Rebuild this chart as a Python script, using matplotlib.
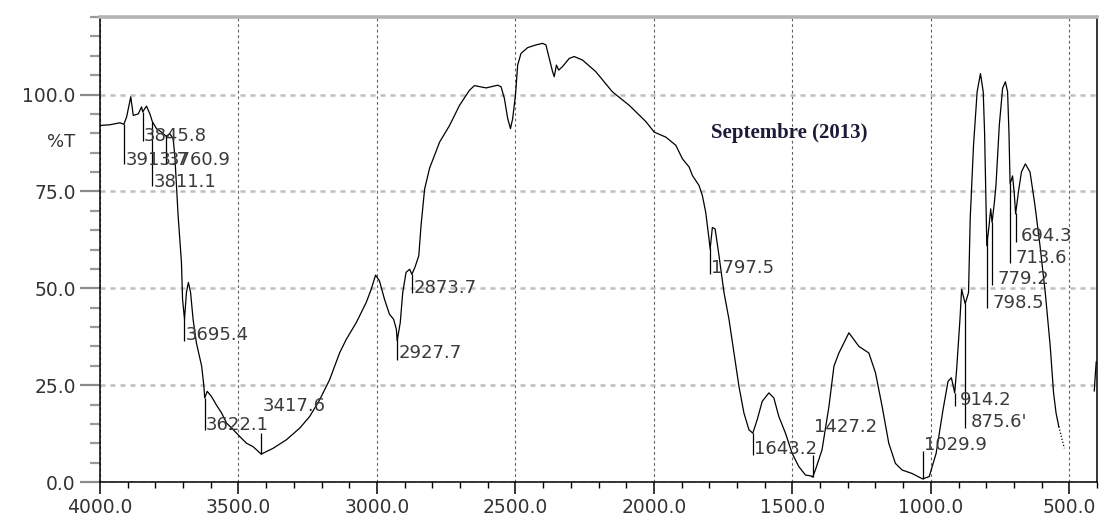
import numpy as np
import matplotlib
matplotlib.use("Agg")
import matplotlib.pyplot as plt
from matplotlib.ticker import MultipleLocator, FormatStrFormatter

# IR transmittance spectrum, wavenumber (cm-1) vs %T
wavenumber = [
    4000, 3964, 3928, 3914, 3904, 3889, 3880, 3862, 3850, 3846, 3838, 3832, 3820, 3811,
    3796, 3778, 3761, 3748, 3736, 3730, 3724, 3718, 3706, 3702, 3695, 3688, 3681, 3673,
    3664, 3652, 3633, 3625, 3622, 3613, 3598, 3580, 3561, 3543, 3519, 3495, 3471, 3447,
    3418, 3375, 3327, 3279, 3243, 3207, 3171, 3135, 3111, 3075, 3039, 3021, 3005, 2991,
    2973, 2955, 2940, 2930, 2927, 2916, 2907, 2895, 2882, 2874, 2863, 2849, 2841, 2828,
    2810, 2774, 2738, 2702, 2666, 2648, 2606, 2564, 2552, 2540, 2528, 2518, 2510, 2500,
    2492, 2480, 2456, 2426, 2402, 2390, 2378, 2366, 2360, 2352, 2344, 2330, 2306, 2288,
    2258, 2210, 2150, 2089, 2029, 1999, 1957, 1921, 1897, 1873, 1861, 1837, 1825, 1813,
    1801, 1797, 1789, 1779, 1765, 1747, 1729, 1711, 1693, 1675, 1657, 1643, 1627, 1609,
    1585, 1567, 1549, 1525, 1501, 1477, 1453, 1435, 1427, 1417, 1393, 1368, 1350, 1332,
    1296, 1260, 1224, 1200, 1176, 1152, 1128, 1104, 1068, 1030, 1006, 981, 956, 938,
    926, 914, 907, 895, 889, 883, 876, 864, 858, 846, 833, 821, 811, 806, 802, 798,
    790, 784, 779, 771, 765, 753, 741, 731, 723, 718, 714, 709, 705, 699, 694, 689,
    684, 673, 659, 642, 624, 606, 587, 569, 557, 548, 538,
]
transmittance = [
    92.0, 92.2, 92.7, 92.3, 94.2, 99.4, 94.6, 95.0, 96.8, 95.5, 96.4, 97.0, 95.0, 93.0,
    91.2, 90.3, 89.2, 89.9, 88.6, 84.3, 76.5, 68.7, 56.7, 47.2, 42.0, 48.9, 51.5, 48.9,
    42.0, 35.9, 29.9, 24.7, 21.7, 23.4, 22.1, 19.9, 17.8, 15.2, 13.5, 11.7, 10.0, 9.1,
    7.2, 8.7, 10.9, 13.9, 16.9, 21.2, 26.4, 33.3, 36.8, 41.1, 46.3, 49.7, 53.4, 51.9,
    47.2, 43.3, 42.0, 39.4, 36.5, 41.1, 48.9, 54.1, 54.9, 53.6, 55.4, 58.4, 66.1, 75.6,
    81.0, 87.7, 92.0, 97.2, 101.1, 102.3, 101.7, 102.4, 102.0, 99.0, 93.8, 91.2, 93.8, 99.8,
    107.6, 110.6, 112.1, 112.8, 113.2, 112.8, 109.3, 105.9, 104.6, 107.6, 106.3, 107.2, 109.3, 109.8,
    108.9, 105.9, 100.7, 97.2, 93.0, 90.3, 89.0, 86.9, 83.4, 81.3, 79.1, 76.5, 73.9, 69.6,
    62.7, 60.1, 65.7, 65.3, 58.4, 48.9, 42.0, 33.3, 24.7, 17.8, 13.5, 12.6, 16.1, 20.8,
    23.0, 21.7, 16.9, 12.6, 7.4, 4.0, 1.8, 1.6, 1.3, 3.1, 8.3, 19.5, 29.9, 33.3,
    38.5, 35.0, 33.3, 28.2, 19.5, 10.0, 4.8, 3.1, 2.2, 0.8, 1.4, 7.4, 18.7, 26.0,
    26.9, 23.0, 29.0, 42.0, 49.7, 48.0, 46.0, 48.9, 67.9, 86.9, 100.7, 105.4, 100.7, 90.0,
    75.0, 61.0, 66.1, 70.5, 67.0, 72.0, 76.5, 92.0, 101.6, 103.3, 100.7, 90.0, 77.0, 78.0,
    79.0, 74.5, 69.2, 72.0, 74.8, 80.0, 82.1, 80.0, 71.3, 61.0, 48.9, 35.0, 23.0, 17.8, 14.3,
]

# noisy tail of the scan below ~540 cm-1, and the rise at the far edge
tail_wn = [538, 526, 518]
tail_t = [14.3, 10.9, 8.7]
edge_wn = [410, 406, 403]
edge_t = [23.5, 28.0, 31.0]

# peak picks: label, end of the leader line, label baseline (%T)
peak_labels = ['3913.7', '3845.8', '3811.1', '3760.9', '3695.4', '3622.1', '3417.6',
               '2927.7', '2873.7', '1797.5', '1643.2', '1427.2', '1029.9', '914.2',
               "875.6'", '798.5', '779.2', '713.6', '694.3']
peak_line_end = [82.0, 88.0, 76.3, 82.0, 36.5, 13.3, 12.7, 31.6, 48.7, 53.6, 7.0,
                 7.0, 7.9, 19.5, 14.0, 45.0, 50.8, 56.5, 62.0]
peak_label_t = [81.8, 88.0, 76.2, 81.8, 36.7, 13.4, 18.2, 32.0, 48.8, 53.9, 7.2,
                12.9, 8.2, 19.8, 14.2, 45.0, 51.0, 56.6, 62.2]

peak_wn = np.array([float(s.rstrip("'")) for s in peak_labels])
wn_arr = np.array(wavenumber, dtype=float)
t_arr = np.array(transmittance, dtype=float)
peak_top = np.interp(peak_wn, wn_arr[::-1], t_arr[::-1])

fig = plt.figure(figsize=(11.04, 5.25), dpi=100)
ax = fig.add_axes([0.0906, 0.0819, 0.9031, 0.8857])

ax.plot(wn_arr, t_arr, color='black', lw=0.9, zorder=3)
ax.plot(tail_wn, tail_t, color='black', lw=0.9, ls=(0, (1, 1.5)), zorder=3)
ax.plot(edge_wn, edge_t, color='black', lw=0.9, zorder=3)

ax.vlines(peak_wn, peak_top, peak_line_end, color='black', lw=0.9, zorder=3)
for wn, lab, ty in zip(peak_wn, peak_labels, peak_label_t):
    dx = 4 if wn < 950 else 1
    ax.annotate(lab, (wn, ty), xytext=(dx, 0), textcoords='offset points',
                ha='left', va='baseline', fontsize=13, color='#3a3a3a',
                family='DejaVu Sans', zorder=4)

ax.text(1513, 90, 'Septembre (2013)', family='Liberation Serif', fontweight='bold',
        fontsize=15, color='#1b1b38', ha='center', va='center')
ax.text(-0.025, 87.8, '%T', transform=ax.get_yaxis_transform(), ha='right',
        va='center', fontsize=13, color='#333333', family='DejaVu Sans')

ax.set_xlim(4000, 400)
ax.set_ylim(0, 120)

ax.xaxis.set_major_locator(MultipleLocator(500))
ax.xaxis.set_minor_locator(MultipleLocator(100))
ax.yaxis.set_major_locator(MultipleLocator(25))
ax.yaxis.set_minor_locator(MultipleLocator(5))
ax.xaxis.set_major_formatter(FormatStrFormatter('%.1f'))
ax.yaxis.set_major_formatter(FormatStrFormatter('%.1f'))

ax.tick_params(axis='x', which='major', direction='out', length=8.6, width=1.1,
               color='black', labelsize=13.5, labelcolor='#333333', pad=3)
ax.tick_params(axis='x', which='minor', direction='out', length=4.5, width=1.0,
               color='black')
ax.tick_params(axis='y', which='major', direction='out', length=14.4, width=1.6,
               color='#8c8c8c', labelsize=13.5, labelcolor='#333333', pad=3)
ax.tick_params(axis='y', which='minor', direction='out', length=7.2, width=1.6,
               color='#9a9a9a')
for lbl in ax.get_xticklabels() + ax.get_yticklabels():
    lbl.set_family('DejaVu Sans')

ax.set_axisbelow(True)
ax.yaxis.grid(True, which='major', color='#bdbdbd', lw=1.8, ls=(0, (2, 2)))
ax.xaxis.grid(True, which='major', color='#606060', lw=0.8, ls=(0, (2.5, 2.5)))

ax.spines['top'].set_color('#b4b4b4')
ax.spines['top'].set_linewidth(2.6)
for side in ['left', 'bottom', 'right']:
    ax.spines[side].set_color('black')
    ax.spines[side].set_linewidth(1.1)

fig.savefig('out.png', dpi=100, facecolor='white')
